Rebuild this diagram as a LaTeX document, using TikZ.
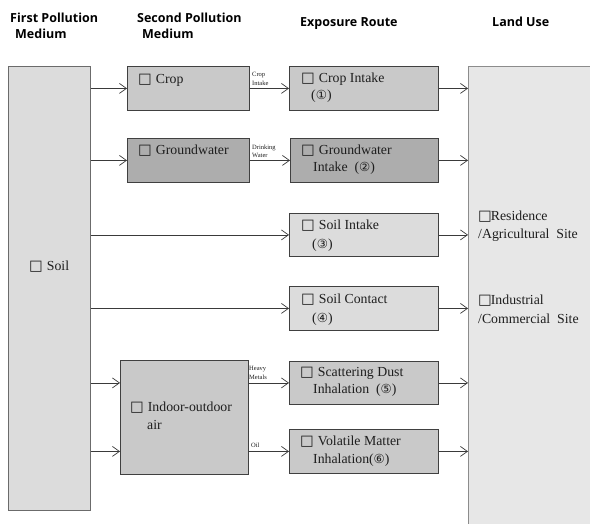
\documentclass[tikz,border=0pt]{standalone}
\usepackage{fontspec}
\setmainfont{Liberation Serif}
\newfontfamily\hdfont{Open Sans}
\newfontfamily\symfont{DejaVu Sans}
\usetikzlibrary{arrows.meta}
\newcommand{\bx}{\raisebox{-0.5pt}{\symfont\fontsize{14.5}{14.5}\selectfont □}\hspace{4pt}}
\newcommand{\bxt}{\raisebox{-0.5pt}{\symfont\fontsize{14.5}{14.5}\selectfont □}\hspace{-1pt}}
\newcommand{\cn}[1]{{\symfont\fontsize{12.5}{12.5}\selectfont #1}}
\definecolor{boxline}{HTML}{404040}
\definecolor{arrc}{HTML}{3A3A3A}
\definecolor{textc}{HTML}{1E1E1E}
\definecolor{cA}{HTML}{DCDCDC}
\definecolor{cB}{HTML}{C9C9C9}
\definecolor{cC}{HTML}{ADADAD}
\definecolor{cL}{HTML}{E7E7E7}
\begin{document}
\begin{tikzpicture}[x=1pt,y=-1pt,
  box/.style={draw=boxline, line width=0.8pt, anchor=north west, inner sep=0pt},
  txt/.style={anchor=mid west, inner sep=0pt, font=\fontsize{13.8}{16}\selectfont, text=textc},
  hd/.style={anchor=mid west, inner sep=0pt, font=\hdfont\bfseries\fontsize{12.5}{15}\selectfont, text=black},
  sm/.style={anchor=mid west, inner sep=0pt, font=\fontsize{6.5}{7}\selectfont, text=textc},
  arr/.style={draw=arrc, line width=0.7pt, -{Straight Barb[length=7pt,width=10pt,line width=0.7pt]}}]
\useasboundingbox (0,0) rectangle (590,524);
\clip (0,0) rectangle (590,524);
\fill[white] (0,0) rectangle (590,524);

% headers
\node[hd] (h1a) at (10,20) {First Pollution};
\node[hd] (h1b) at (15,36) {Medium};
\node[hd] (h2a) at (137,20) {Second Pollution};
\node[hd] (h2b) at (142,36) {Medium};
\node[hd] (h3) at (300,24) {Exposure Route};
\node[hd] (h4) at (492,24) {Land Use};

% boxes
\node[box, draw=black!58, line width=1pt, fill=cA, minimum width=82pt, minimum height=444pt] (soil) at (8,66) {};
\node[box, fill=cB, minimum width=122pt, minimum height=44pt] (crop) at (127,66) {};
\node[box, fill=cC, minimum width=122pt, minimum height=44pt] (gw) at (127,138) {};
\node[box, fill=cB, minimum width=128pt, minimum height=114pt] (indoor) at (120,360) {};
\node[box, fill=cB, minimum width=149pt, minimum height=44pt] (cropI) at (289,66) {};
\node[box, fill=cC, minimum width=148pt, minimum height=44pt] (gwI) at (290,138) {};
\node[box, fill=cA, minimum width=149pt, minimum height=43pt] (soilI) at (289,213) {};
\node[box, fill=cA, minimum width=149pt, minimum height=44pt] (soilC) at (289,286) {};
\node[box, fill=cB, minimum width=149pt, minimum height=43pt] (scat) at (289,361) {};
\node[box, fill=cB, minimum width=149pt, minimum height=44pt] (vol) at (289,429) {};
\node[box, draw=black!45, line width=1.2pt, fill=cL, minimum width=140pt, minimum height=480pt] (land) at (468,66) {};

% box texts
\node[txt] (tsoil) at (29,268) {\bx Soil};
\node[txt] (tcrop) at (138,81) {\bx Crop};
\node[txt] (tgw) at (138,152) {\bx Groundwater};
\node[txt] (tin1) at (130,409) {\bx Indoor-outdoor};
\node[txt] (tin2) at (147,427) {air};
\node[txt] (tci1) at (301,80) {\bx Crop Intake};
\node[txt] (tci2) at (311,97) {(\cn{①})};
\node[txt] (tgi1) at (301,152) {\bx Groundwater};
\node[txt] (tgi2) at (313,169) {Intake\ \ (\cn{②})};
\node[txt] (tsi1) at (301,227) {\bx Soil Intake};
\node[txt] (tsi2) at (312,246) {(\cn{③})};
\node[txt] (tsc1) at (301,301) {\bx Soil Contact};
\node[txt] (tsc2) at (312,320) {(\cn{④})};
\node[txt] (tsd1) at (300,374) {\bx Scattering\ Dust};
\node[txt] (tsd2) at (313,391) {Inhalation\ \ (\cn{⑤})};
\node[txt] (tvm1) at (300,443) {\bx Volatile Matter};
\node[txt] (tvm2) at (313,461) {Inhalation(\cn{⑥})};
\node[txt] (tlu1) at (478,218) {\bxt Residence};
\node[txt] (tlu2) at (478,236) {/Agricultural\ \ Site};
\node[txt] (tlu3) at (478,302) {\bxt Industrial};
\node[txt] (tlu4) at (478,321) {/Commercial\ \ Site};

% small labels
\node[sm] (l1a) at (252,74) {Crop};
\node[sm] (l1b) at (252,83) {Intake};
\node[sm] (l2a) at (252,147) {Drinking};
\node[sm] (l2b) at (252,155) {Water};
\node[sm] (l3a) at (249,368) {Heavy};
\node[sm] (l3b) at (249,377) {Metals};
\node[sm] (l4) at (251,445) {Oil};

% arrows from soil
\draw[arr] (soil.east |- crop.west) -- (crop.west);
\draw[arr] (soil.east |- gw.west) -- (gw.west);
\draw[arr] (soil.east |- soilI.west) -- (soilI.west);
\draw[arr] (soil.east |- soilC.west) -- (soilC.west);
\draw[arr] (soil.east |- scat.west) -- (indoor.west |- scat.west);
\draw[arr] (soil.east |- vol.west) -- (indoor.west |- vol.west);
% second medium to exposure
\draw[arr] (crop.east) -- (cropI.west |- crop.east);
\draw[arr] (gw.east) -- (gwI.west |- gw.east);
\draw[arr] (indoor.east |- scat.west) -- (scat.west);
\draw[arr] (indoor.east |- vol.west) -- (vol.west);
% exposure to land use
\foreach \n in {cropI,gwI,soilI,soilC,scat,vol}
  \draw[arr] (\n.east) -- (land.west |- \n.east);
\end{tikzpicture}
\end{document}
